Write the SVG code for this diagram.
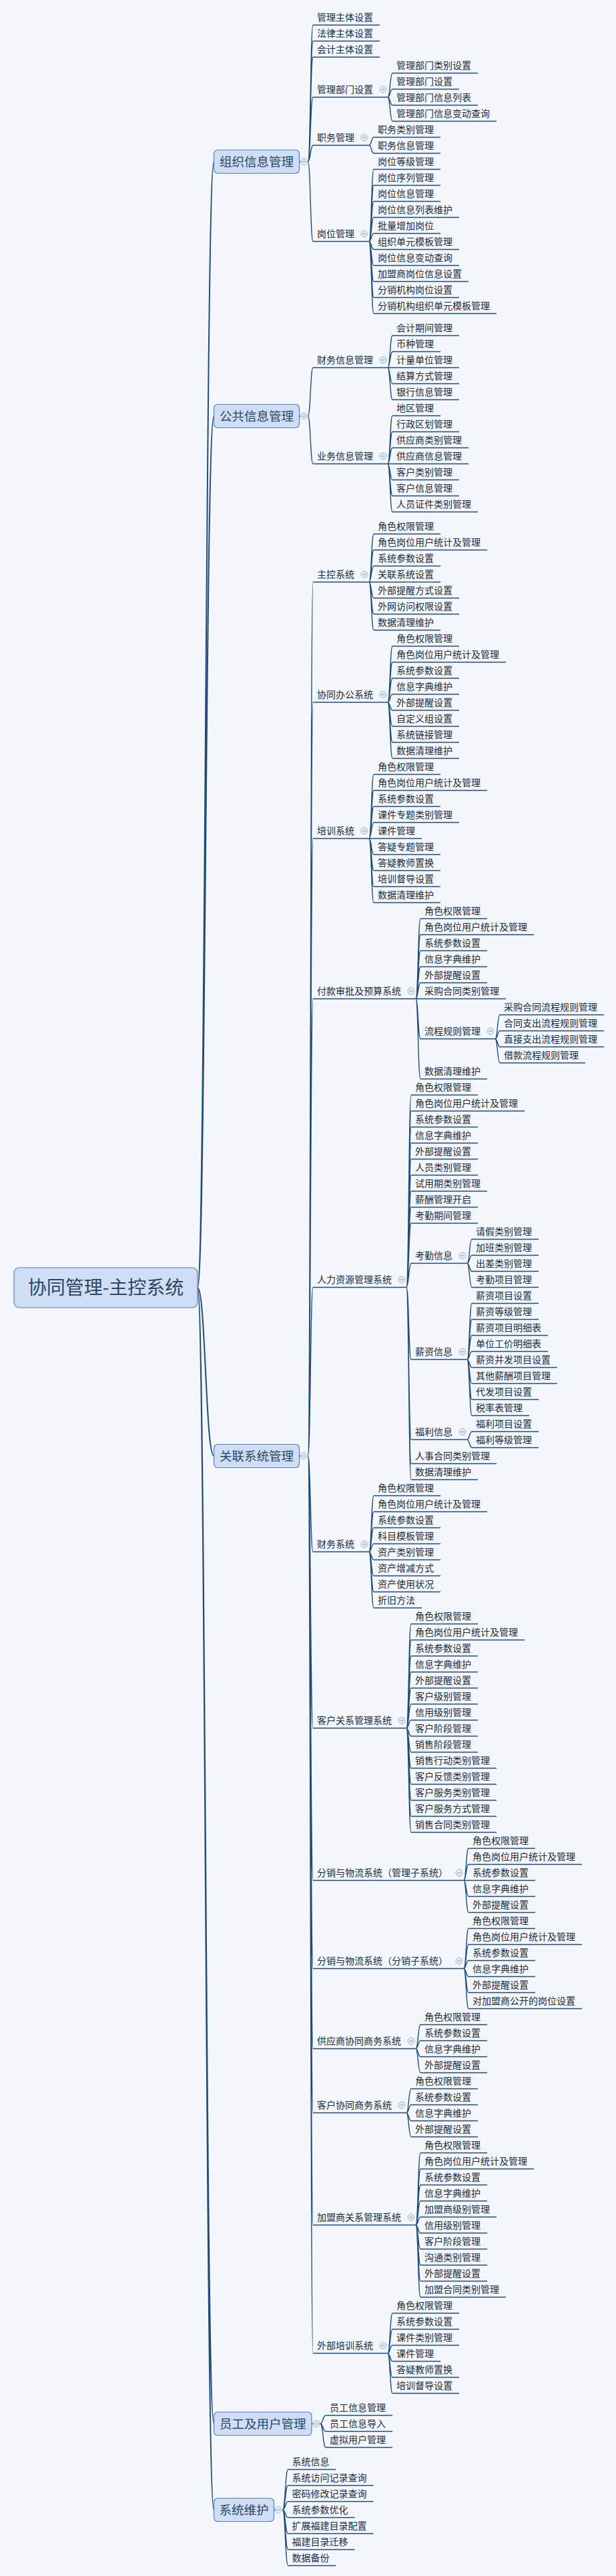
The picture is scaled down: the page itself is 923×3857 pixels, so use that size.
<svg xmlns="http://www.w3.org/2000/svg" width="923" height="3857" viewBox="0 0 923 3857">
<style>
text{font-family:"Noto Sans CJK SC","Noto Sans CJK JP",sans-serif;font-size:14px;fill:#1a2b42}
.u{stroke:#234b74;stroke-width:1.3;fill:none}
#connectors path{stroke:#234b74;stroke-width:1.4;fill:none}
#connectors path.r{stroke-width:2}
.box{fill:#cfdef4;stroke:#5b80b4;stroke-width:1.2}
.bt{font-size:18.5px;fill:#2b4566;text-anchor:middle}
.rt{font-size:28px;fill:#2b4566;text-anchor:middle}
.k circle{fill:#e2e9f2;stroke:#a5b8cf;stroke-width:1}
.k path{stroke:#8299b6;stroke-width:1;fill:none}
</style>
<rect x="0" y="0" width="923" height="3857" fill="#f3f6fa"/>

<g id="connectors">
<path class="r" d="M296 1928C308 1928 308 242 320.5 242M296 1928C308 1928 308 623 320.5 623M296 1928C308 1928 308 2180 320.5 2180M296 1928C308 1928 308 3629 320.5 3629M296 1928C308 1928 308 3758 320.5 3758"/>
<path d="M448.5 242H461.5M448.5 623H461.5M448.5 2180H461.5M467 3629H480M410.5 3758H423.5"/>
<path d="M461.5 242C465.2 242 465.2 37.5 469 37.5M461.5 242C465.2 242 465.2 61.5 469 61.5M461.5 242C465.2 242 465.2 85.5 469 85.5M461.5 242C465.2 242 465.2 145.5 469 145.5M461.5 242C465.2 242 465.2 217.5 469 217.5M461.5 242C465.2 242 465.2 361.5 469 361.5"/>
<path d="M581 145.5C584.5 145.5 584.5 109.5 588 109.5M581 145.5C584.5 145.5 584.5 133.5 588 133.5M581 145.5C584.5 145.5 584.5 157.5 588 157.5M581 145.5C584.5 145.5 584.5 181.5 588 181.5"/>
<path d="M553 217.5C556.5 217.5 556.5 205.5 560 205.5M553 217.5C556.5 217.5 556.5 229.5 560 229.5"/>
<path d="M553 361.5C556.5 361.5 556.5 253.5 560 253.5M553 361.5C556.5 361.5 556.5 277.5 560 277.5M553 361.5C556.5 361.5 556.5 301.5 560 301.5M553 361.5C556.5 361.5 556.5 325.5 560 325.5M553 361.5C556.5 361.5 556.5 349.5 560 349.5M553 361.5C556.5 361.5 556.5 373.5 560 373.5M553 361.5C556.5 361.5 556.5 397.5 560 397.5M553 361.5C556.5 361.5 556.5 421.5 560 421.5M553 361.5C556.5 361.5 556.5 445.5 560 445.5M553 361.5C556.5 361.5 556.5 469.5 560 469.5"/>
<path d="M461.5 623C465.2 623 465.2 550.5 469 550.5M461.5 623C465.2 623 465.2 694.5 469 694.5"/>
<path d="M581 550.5C584.5 550.5 584.5 502.5 588 502.5M581 550.5C584.5 550.5 584.5 526.5 588 526.5M581 550.5C584.5 550.5 584.5 550.5 588 550.5M581 550.5C584.5 550.5 584.5 574.5 588 574.5M581 550.5C584.5 550.5 584.5 598.5 588 598.5"/>
<path d="M581 694.5C584.5 694.5 584.5 622.5 588 622.5M581 694.5C584.5 694.5 584.5 646.5 588 646.5M581 694.5C584.5 694.5 584.5 670.5 588 670.5M581 694.5C584.5 694.5 584.5 694.5 588 694.5M581 694.5C584.5 694.5 584.5 718.5 588 718.5M581 694.5C584.5 694.5 584.5 742.5 588 742.5M581 694.5C584.5 694.5 584.5 766.5 588 766.5"/>
<path d="M461.5 2180C465.2 2180 465.2 871.5 469 871.5M461.5 2180C465.2 2180 465.2 1051.5 469 1051.5M461.5 2180C465.2 2180 465.2 1255.5 469 1255.5M461.5 2180C465.2 2180 465.2 1495.5 469 1495.5M461.5 2180C465.2 2180 465.2 1927.5 469 1927.5M461.5 2180C465.2 2180 465.2 2323.5 469 2323.5M461.5 2180C465.2 2180 465.2 2587.5 469 2587.5M461.5 2180C465.2 2180 465.2 2815.5 469 2815.5M461.5 2180C465.2 2180 465.2 2947.5 469 2947.5M461.5 2180C465.2 2180 465.2 3067.5 469 3067.5M461.5 2180C465.2 2180 465.2 3163.5 469 3163.5M461.5 2180C465.2 2180 465.2 3331.5 469 3331.5M461.5 2180C465.2 2180 465.2 3523.5 469 3523.5"/>
<path d="M553 871.5C556.5 871.5 556.5 799.5 560 799.5M553 871.5C556.5 871.5 556.5 823.5 560 823.5M553 871.5C556.5 871.5 556.5 847.5 560 847.5M553 871.5C556.5 871.5 556.5 871.5 560 871.5M553 871.5C556.5 871.5 556.5 895.5 560 895.5M553 871.5C556.5 871.5 556.5 919.5 560 919.5M553 871.5C556.5 871.5 556.5 943.5 560 943.5"/>
<path d="M581 1051.5C584.5 1051.5 584.5 967.5 588 967.5M581 1051.5C584.5 1051.5 584.5 991.5 588 991.5M581 1051.5C584.5 1051.5 584.5 1015.5 588 1015.5M581 1051.5C584.5 1051.5 584.5 1039.5 588 1039.5M581 1051.5C584.5 1051.5 584.5 1063.5 588 1063.5M581 1051.5C584.5 1051.5 584.5 1087.5 588 1087.5M581 1051.5C584.5 1051.5 584.5 1111.5 588 1111.5M581 1051.5C584.5 1051.5 584.5 1135.5 588 1135.5"/>
<path d="M553 1255.5C556.5 1255.5 556.5 1159.5 560 1159.5M553 1255.5C556.5 1255.5 556.5 1183.5 560 1183.5M553 1255.5C556.5 1255.5 556.5 1207.5 560 1207.5M553 1255.5C556.5 1255.5 556.5 1231.5 560 1231.5M553 1255.5C556.5 1255.5 556.5 1255.5 560 1255.5M553 1255.5C556.5 1255.5 556.5 1279.5 560 1279.5M553 1255.5C556.5 1255.5 556.5 1303.5 560 1303.5M553 1255.5C556.5 1255.5 556.5 1327.5 560 1327.5M553 1255.5C556.5 1255.5 556.5 1351.5 560 1351.5"/>
<path d="M623 1495.5C626.5 1495.5 626.5 1375.5 630 1375.5M623 1495.5C626.5 1495.5 626.5 1399.5 630 1399.5M623 1495.5C626.5 1495.5 626.5 1423.5 630 1423.5M623 1495.5C626.5 1495.5 626.5 1447.5 630 1447.5M623 1495.5C626.5 1495.5 626.5 1471.5 630 1471.5M623 1495.5C626.5 1495.5 626.5 1495.5 630 1495.5M623 1495.5C626.5 1495.5 626.5 1555.5 630 1555.5M623 1495.5C626.5 1495.5 626.5 1615.5 630 1615.5"/>
<path d="M742 1555.5C745.5 1555.5 745.5 1519.5 749 1519.5M742 1555.5C745.5 1555.5 745.5 1543.5 749 1543.5M742 1555.5C745.5 1555.5 745.5 1567.5 749 1567.5M742 1555.5C745.5 1555.5 745.5 1591.5 749 1591.5"/>
<path d="M609 1927.5C612.5 1927.5 612.5 1639.5 616 1639.5M609 1927.5C612.5 1927.5 612.5 1663.5 616 1663.5M609 1927.5C612.5 1927.5 612.5 1687.5 616 1687.5M609 1927.5C612.5 1927.5 612.5 1711.5 616 1711.5M609 1927.5C612.5 1927.5 612.5 1735.5 616 1735.5M609 1927.5C612.5 1927.5 612.5 1759.5 616 1759.5M609 1927.5C612.5 1927.5 612.5 1783.5 616 1783.5M609 1927.5C612.5 1927.5 612.5 1807.5 616 1807.5M609 1927.5C612.5 1927.5 612.5 1831.5 616 1831.5M609 1927.5C612.5 1927.5 612.5 1891.5 616 1891.5M609 1927.5C612.5 1927.5 612.5 2035.5 616 2035.5M609 1927.5C612.5 1927.5 612.5 2155.5 616 2155.5M609 1927.5C612.5 1927.5 612.5 2191.5 616 2191.5M609 1927.5C612.5 1927.5 612.5 2215.5 616 2215.5"/>
<path d="M700 1891.5C703.5 1891.5 703.5 1855.5 707 1855.5M700 1891.5C703.5 1891.5 703.5 1879.5 707 1879.5M700 1891.5C703.5 1891.5 703.5 1903.5 707 1903.5M700 1891.5C703.5 1891.5 703.5 1927.5 707 1927.5"/>
<path d="M700 2035.5C703.5 2035.5 703.5 1951.5 707 1951.5M700 2035.5C703.5 2035.5 703.5 1975.5 707 1975.5M700 2035.5C703.5 2035.5 703.5 1999.5 707 1999.5M700 2035.5C703.5 2035.5 703.5 2023.5 707 2023.5M700 2035.5C703.5 2035.5 703.5 2047.5 707 2047.5M700 2035.5C703.5 2035.5 703.5 2071.5 707 2071.5M700 2035.5C703.5 2035.5 703.5 2095.5 707 2095.5M700 2035.5C703.5 2035.5 703.5 2119.5 707 2119.5"/>
<path d="M700 2155.5C703.5 2155.5 703.5 2143.5 707 2143.5M700 2155.5C703.5 2155.5 703.5 2167.5 707 2167.5"/>
<path d="M553 2323.5C556.5 2323.5 556.5 2239.5 560 2239.5M553 2323.5C556.5 2323.5 556.5 2263.5 560 2263.5M553 2323.5C556.5 2323.5 556.5 2287.5 560 2287.5M553 2323.5C556.5 2323.5 556.5 2311.5 560 2311.5M553 2323.5C556.5 2323.5 556.5 2335.5 560 2335.5M553 2323.5C556.5 2323.5 556.5 2359.5 560 2359.5M553 2323.5C556.5 2323.5 556.5 2383.5 560 2383.5M553 2323.5C556.5 2323.5 556.5 2407.5 560 2407.5"/>
<path d="M609 2587.5C612.5 2587.5 612.5 2431.5 616 2431.5M609 2587.5C612.5 2587.5 612.5 2455.5 616 2455.5M609 2587.5C612.5 2587.5 612.5 2479.5 616 2479.5M609 2587.5C612.5 2587.5 612.5 2503.5 616 2503.5M609 2587.5C612.5 2587.5 612.5 2527.5 616 2527.5M609 2587.5C612.5 2587.5 612.5 2551.5 616 2551.5M609 2587.5C612.5 2587.5 612.5 2575.5 616 2575.5M609 2587.5C612.5 2587.5 612.5 2599.5 616 2599.5M609 2587.5C612.5 2587.5 612.5 2623.5 616 2623.5M609 2587.5C612.5 2587.5 612.5 2647.5 616 2647.5M609 2587.5C612.5 2587.5 612.5 2671.5 616 2671.5M609 2587.5C612.5 2587.5 612.5 2695.5 616 2695.5M609 2587.5C612.5 2587.5 612.5 2719.5 616 2719.5M609 2587.5C612.5 2587.5 612.5 2743.5 616 2743.5"/>
<path d="M695 2815.5C698.5 2815.5 698.5 2767.5 702 2767.5M695 2815.5C698.5 2815.5 698.5 2791.5 702 2791.5M695 2815.5C698.5 2815.5 698.5 2815.5 702 2815.5M695 2815.5C698.5 2815.5 698.5 2839.5 702 2839.5M695 2815.5C698.5 2815.5 698.5 2863.5 702 2863.5"/>
<path d="M695 2947.5C698.5 2947.5 698.5 2887.5 702 2887.5M695 2947.5C698.5 2947.5 698.5 2911.5 702 2911.5M695 2947.5C698.5 2947.5 698.5 2935.5 702 2935.5M695 2947.5C698.5 2947.5 698.5 2959.5 702 2959.5M695 2947.5C698.5 2947.5 698.5 2983.5 702 2983.5M695 2947.5C698.5 2947.5 698.5 3007.5 702 3007.5"/>
<path d="M623 3067.5C626.5 3067.5 626.5 3031.5 630 3031.5M623 3067.5C626.5 3067.5 626.5 3055.5 630 3055.5M623 3067.5C626.5 3067.5 626.5 3079.5 630 3079.5M623 3067.5C626.5 3067.5 626.5 3103.5 630 3103.5"/>
<path d="M609 3163.5C612.5 3163.5 612.5 3127.5 616 3127.5M609 3163.5C612.5 3163.5 612.5 3151.5 616 3151.5M609 3163.5C612.5 3163.5 612.5 3175.5 616 3175.5M609 3163.5C612.5 3163.5 612.5 3199.5 616 3199.5"/>
<path d="M623 3331.5C626.5 3331.5 626.5 3223.5 630 3223.5M623 3331.5C626.5 3331.5 626.5 3247.5 630 3247.5M623 3331.5C626.5 3331.5 626.5 3271.5 630 3271.5M623 3331.5C626.5 3331.5 626.5 3295.5 630 3295.5M623 3331.5C626.5 3331.5 626.5 3319.5 630 3319.5M623 3331.5C626.5 3331.5 626.5 3343.5 630 3343.5M623 3331.5C626.5 3331.5 626.5 3367.5 630 3367.5M623 3331.5C626.5 3331.5 626.5 3391.5 630 3391.5M623 3331.5C626.5 3331.5 626.5 3415.5 630 3415.5M623 3331.5C626.5 3331.5 626.5 3439.5 630 3439.5"/>
<path d="M581 3523.5C584.5 3523.5 584.5 3463.5 588 3463.5M581 3523.5C584.5 3523.5 584.5 3487.5 588 3487.5M581 3523.5C584.5 3523.5 584.5 3511.5 588 3511.5M581 3523.5C584.5 3523.5 584.5 3535.5 588 3535.5M581 3523.5C584.5 3523.5 584.5 3559.5 588 3559.5M581 3523.5C584.5 3523.5 584.5 3583.5 588 3583.5"/>
<path d="M480 3629C484 3629 484 3616.5 488 3616.5M480 3629C484 3629 484 3640.5 488 3640.5M480 3629C484 3629 484 3664.5 488 3664.5"/>
<path d="M423.5 3758C427.5 3758 427.5 3697.5 431.5 3697.5M423.5 3758C427.5 3758 427.5 3721.5 431.5 3721.5M423.5 3758C427.5 3758 427.5 3745.5 431.5 3745.5M423.5 3758C427.5 3758 427.5 3769.5 431.5 3769.5M423.5 3758C427.5 3758 427.5 3793.5 431.5 3793.5M423.5 3758C427.5 3758 427.5 3817.5 431.5 3817.5M423.5 3758C427.5 3758 427.5 3841.5 431.5 3841.5"/>
</g>

<g id="root"><rect class="box" x="21" y="1898" width="275" height="60" rx="8"/><text class="rt" x="158.5" y="1938">协同管理-主控系统</text></g>

<g id="b-org"><rect class="box" x="320.5" y="224.5" width="128" height="35" rx="6"/><text class="bt" x="384.5" y="248.5">组织信息管理</text><g class="k"><circle cx="455.5" cy="242" r="5"/><path d="M453 242H458"/></g></g>
<g id="b-pub"><rect class="box" x="320.5" y="605.5" width="128" height="35" rx="6"/><text class="bt" x="384.5" y="629.5">公共信息管理</text><g class="k"><circle cx="455.5" cy="623" r="5"/><path d="M453 623H458"/></g></g>
<g id="b-rel"><rect class="box" x="320.5" y="2162.5" width="128" height="35" rx="6"/><text class="bt" x="384.5" y="2186.5">关联系统管理</text><g class="k"><circle cx="455.5" cy="2180" r="5"/><path d="M453 2180H458"/></g></g>
<g id="b-emp"><rect class="box" x="320.5" y="3611.5" width="146.5" height="35" rx="6"/><text class="bt" x="393.75" y="3635.5">员工及用户管理</text><g class="k"><circle cx="474" cy="3629" r="5"/><path d="M471.5 3629H476.5"/></g></g>
<g id="b-sys"><rect class="box" x="320.5" y="3740.5" width="90" height="35" rx="6"/><text class="bt" x="365.5" y="3764.5">系统维护</text><g class="k"><circle cx="417.5" cy="3758" r="5"/><path d="M415 3758H420"/></g></g>

<g id="org-nodes">
<g id="o1"><text x="475" y="31">管理主体设置</text><path class="u" d="M469 37.5H569"/></g>
<g id="o2"><text x="475" y="55">法律主体设置</text><path class="u" d="M469 61.5H569"/></g>
<g id="o3"><text x="475" y="79">会计主体设置</text><path class="u" d="M469 85.5H569"/></g>
<g id="o4"><text x="475" y="139">管理部门设置</text><path class="u" d="M469 145.5H581"/><g class="k"><circle cx="574" cy="134" r="5"/><path d="M571.5 134H576.5"/></g></g>
<g id="o4a"><text x="594" y="103">管理部门类别设置</text><path class="u" d="M588 109.5H716"/></g>
<g id="o4b"><text x="594" y="127">管理部门设置</text><path class="u" d="M588 133.5H688"/></g>
<g id="o4c"><text x="594" y="151">管理部门信息列表</text><path class="u" d="M588 157.5H716"/></g>
<g id="o4d"><text x="594" y="175">管理部门信息变动查询</text><path class="u" d="M588 181.5H744"/></g>
<g id="o5"><text x="475" y="211">职务管理</text><path class="u" d="M469 217.5H553"/><g class="k"><circle cx="546" cy="206" r="5"/><path d="M543.5 206H548.5"/></g></g>
<g id="o5a"><text x="566" y="199">职务类别管理</text><path class="u" d="M560 205.5H660"/></g>
<g id="o5b"><text x="566" y="223">职务信息管理</text><path class="u" d="M560 229.5H660"/></g>
<g id="o6"><text x="475" y="355">岗位管理</text><path class="u" d="M469 361.5H553"/><g class="k"><circle cx="546" cy="350" r="5"/><path d="M543.5 350H548.5"/></g></g>
<g id="o6a"><text x="566" y="247">岗位等级管理</text><path class="u" d="M560 253.5H660"/></g>
<g id="o6b"><text x="566" y="271">岗位序列管理</text><path class="u" d="M560 277.5H660"/></g>
<g id="o6c"><text x="566" y="295">岗位信息管理</text><path class="u" d="M560 301.5H660"/></g>
<g id="o6d"><text x="566" y="319">岗位信息列表维护</text><path class="u" d="M560 325.5H688"/></g>
<g id="o6e"><text x="566" y="343">批量增加岗位</text><path class="u" d="M560 349.5H660"/></g>
<g id="o6f"><text x="566" y="367">组织单元模板管理</text><path class="u" d="M560 373.5H688"/></g>
<g id="o6g"><text x="566" y="391">岗位信息变动查询</text><path class="u" d="M560 397.5H688"/></g>
<g id="o6h"><text x="566" y="415">加盟商岗位信息设置</text><path class="u" d="M560 421.5H702"/></g>
<g id="o6i"><text x="566" y="439">分销机构岗位设置</text><path class="u" d="M560 445.5H688"/></g>
<g id="o6j"><text x="566" y="463">分销机构组织单元模板管理</text><path class="u" d="M560 469.5H744"/></g>
</g>

<g id="pub-nodes">
<g id="p1"><text x="475" y="544">财务信息管理</text><path class="u" d="M469 550.5H581"/><g class="k"><circle cx="574" cy="539" r="5"/><path d="M571.5 539H576.5"/></g></g>
<g id="p1a"><text x="594" y="496">会计期间管理</text><path class="u" d="M588 502.5H688"/></g>
<g id="p1b"><text x="594" y="520">币种管理</text><path class="u" d="M588 526.5H660"/></g>
<g id="p1c"><text x="594" y="544">计量单位管理</text><path class="u" d="M588 550.5H688"/></g>
<g id="p1d"><text x="594" y="568">结算方式管理</text><path class="u" d="M588 574.5H688"/></g>
<g id="p1e"><text x="594" y="592">银行信息管理</text><path class="u" d="M588 598.5H688"/></g>
<g id="p2"><text x="475" y="688">业务信息管理</text><path class="u" d="M469 694.5H581"/><g class="k"><circle cx="574" cy="683" r="5"/><path d="M571.5 683H576.5"/></g></g>
<g id="p2a"><text x="594" y="616">地区管理</text><path class="u" d="M588 622.5H660"/></g>
<g id="p2b"><text x="594" y="640">行政区划管理</text><path class="u" d="M588 646.5H688"/></g>
<g id="p2c"><text x="594" y="664">供应商类别管理</text><path class="u" d="M588 670.5H702"/></g>
<g id="p2d"><text x="594" y="688">供应商信息管理</text><path class="u" d="M588 694.5H702"/></g>
<g id="p2e"><text x="594" y="712">客户类别管理</text><path class="u" d="M588 718.5H688"/></g>
<g id="p2f"><text x="594" y="736">客户信息管理</text><path class="u" d="M588 742.5H688"/></g>
<g id="p2g"><text x="594" y="760">人员证件类别管理</text><path class="u" d="M588 766.5H716"/></g>
</g>

<g id="rel-nodes">
<g id="r1"><text x="475" y="865">主控系统</text><path class="u" d="M469 871.5H553"/><g class="k"><circle cx="546" cy="860" r="5"/><path d="M543.5 860H548.5"/></g></g>
<g id="r1a"><text x="566" y="793">角色权限管理</text><path class="u" d="M560 799.5H660"/></g>
<g id="r1b"><text x="566" y="817">角色岗位用户统计及管理</text><path class="u" d="M560 823.5H730"/></g>
<g id="r1c"><text x="566" y="841">系统参数设置</text><path class="u" d="M560 847.5H660"/></g>
<g id="r1d"><text x="566" y="865">关联系统设置</text><path class="u" d="M560 871.5H660"/></g>
<g id="r1e"><text x="566" y="889">外部提醒方式设置</text><path class="u" d="M560 895.5H688"/></g>
<g id="r1f"><text x="566" y="913">外网访问权限设置</text><path class="u" d="M560 919.5H688"/></g>
<g id="r1g"><text x="566" y="937">数据清理维护</text><path class="u" d="M560 943.5H660"/></g>

<g id="r2"><text x="475" y="1045">协同办公系统</text><path class="u" d="M469 1051.5H581"/><g class="k"><circle cx="574" cy="1040" r="5"/><path d="M571.5 1040H576.5"/></g></g>
<g id="r2a"><text x="594" y="961">角色权限管理</text><path class="u" d="M588 967.5H688"/></g>
<g id="r2b"><text x="594" y="985">角色岗位用户统计及管理</text><path class="u" d="M588 991.5H758"/></g>
<g id="r2c"><text x="594" y="1009">系统参数设置</text><path class="u" d="M588 1015.5H688"/></g>
<g id="r2d"><text x="594" y="1033">信息字典维护</text><path class="u" d="M588 1039.5H688"/></g>
<g id="r2e"><text x="594" y="1057">外部提醒设置</text><path class="u" d="M588 1063.5H688"/></g>
<g id="r2f"><text x="594" y="1081">自定义组设置</text><path class="u" d="M588 1087.5H688"/></g>
<g id="r2g"><text x="594" y="1105">系统链接管理</text><path class="u" d="M588 1111.5H688"/></g>
<g id="r2h"><text x="594" y="1129">数据清理维护</text><path class="u" d="M588 1135.5H688"/></g>

<g id="r3"><text x="475" y="1249">培训系统</text><path class="u" d="M469 1255.5H553"/><g class="k"><circle cx="546" cy="1244" r="5"/><path d="M543.5 1244H548.5"/></g></g>
<g id="r3a"><text x="566" y="1153">角色权限管理</text><path class="u" d="M560 1159.5H660"/></g>
<g id="r3b"><text x="566" y="1177">角色岗位用户统计及管理</text><path class="u" d="M560 1183.5H730"/></g>
<g id="r3c"><text x="566" y="1201">系统参数设置</text><path class="u" d="M560 1207.5H660"/></g>
<g id="r3d"><text x="566" y="1225">课件专题类别管理</text><path class="u" d="M560 1231.5H688"/></g>
<g id="r3e"><text x="566" y="1249">课件管理</text><path class="u" d="M560 1255.5H632"/></g>
<g id="r3f"><text x="566" y="1273">答疑专题管理</text><path class="u" d="M560 1279.5H660"/></g>
<g id="r3g"><text x="566" y="1297">答疑教师置换</text><path class="u" d="M560 1303.5H660"/></g>
<g id="r3h"><text x="566" y="1321">培训督导设置</text><path class="u" d="M560 1327.5H660"/></g>
<g id="r3i"><text x="566" y="1345">数据清理维护</text><path class="u" d="M560 1351.5H660"/></g>

<g id="r4"><text x="475" y="1489">付款审批及预算系统</text><path class="u" d="M469 1495.5H623"/><g class="k"><circle cx="616" cy="1484" r="5"/><path d="M613.5 1484H618.5"/></g></g>
<g id="r4a"><text x="636" y="1369">角色权限管理</text><path class="u" d="M630 1375.5H730"/></g>
<g id="r4b"><text x="636" y="1393">角色岗位用户统计及管理</text><path class="u" d="M630 1399.5H800"/></g>
<g id="r4c"><text x="636" y="1417">系统参数设置</text><path class="u" d="M630 1423.5H730"/></g>
<g id="r4d"><text x="636" y="1441">信息字典维护</text><path class="u" d="M630 1447.5H730"/></g>
<g id="r4e"><text x="636" y="1465">外部提醒设置</text><path class="u" d="M630 1471.5H730"/></g>
<g id="r4f"><text x="636" y="1489">采购合同类别管理</text><path class="u" d="M630 1495.5H758"/></g>
<g id="r4g"><text x="636" y="1549">流程规则管理</text><path class="u" d="M630 1555.5H742"/><g class="k"><circle cx="735" cy="1544" r="5"/><path d="M732.5 1544H737.5"/></g></g>
<g id="r4g1"><text x="755" y="1513">采购合同流程规则管理</text><path class="u" d="M749 1519.5H905"/></g>
<g id="r4g2"><text x="755" y="1537">合同支出流程规则管理</text><path class="u" d="M749 1543.5H905"/></g>
<g id="r4g3"><text x="755" y="1561">直接支出流程规则管理</text><path class="u" d="M749 1567.5H905"/></g>
<g id="r4g4"><text x="755" y="1585">借款流程规则管理</text><path class="u" d="M749 1591.5H877"/></g>
<g id="r4h"><text x="636" y="1609">数据清理维护</text><path class="u" d="M630 1615.5H730"/></g>

<g id="r5"><text x="475" y="1921">人力资源管理系统</text><path class="u" d="M469 1927.5H609"/><g class="k"><circle cx="602" cy="1916" r="5"/><path d="M599.5 1916H604.5"/></g></g>
<g id="r5a"><text x="622" y="1633">角色权限管理</text><path class="u" d="M616 1639.5H716"/></g>
<g id="r5b"><text x="622" y="1657">角色岗位用户统计及管理</text><path class="u" d="M616 1663.5H786"/></g>
<g id="r5c"><text x="622" y="1681">系统参数设置</text><path class="u" d="M616 1687.5H716"/></g>
<g id="r5d"><text x="622" y="1705">信息字典维护</text><path class="u" d="M616 1711.5H716"/></g>
<g id="r5e"><text x="622" y="1729">外部提醒设置</text><path class="u" d="M616 1735.5H716"/></g>
<g id="r5f"><text x="622" y="1753">人员类别管理</text><path class="u" d="M616 1759.5H716"/></g>
<g id="r5g"><text x="622" y="1777">试用期类别管理</text><path class="u" d="M616 1783.5H730"/></g>
<g id="r5h"><text x="622" y="1801">薪酬管理开启</text><path class="u" d="M616 1807.5H716"/></g>
<g id="r5i"><text x="622" y="1825">考勤期间管理</text><path class="u" d="M616 1831.5H716"/></g>
<g id="r5j"><text x="622" y="1885">考勤信息</text><path class="u" d="M616 1891.5H700"/><g class="k"><circle cx="693" cy="1880" r="5"/><path d="M690.5 1880H695.5"/></g></g>
<g id="r5j1"><text x="713" y="1849">请假类别管理</text><path class="u" d="M707 1855.5H807"/></g>
<g id="r5j2"><text x="713" y="1873">加班类别管理</text><path class="u" d="M707 1879.5H807"/></g>
<g id="r5j3"><text x="713" y="1897">出差类别管理</text><path class="u" d="M707 1903.5H807"/></g>
<g id="r5j4"><text x="713" y="1921">考勤项目管理</text><path class="u" d="M707 1927.5H807"/></g>
<g id="r5k"><text x="622" y="2029">薪资信息</text><path class="u" d="M616 2035.5H700"/><g class="k"><circle cx="693" cy="2024" r="5"/><path d="M690.5 2024H695.5"/></g></g>
<g id="r5k1"><text x="713" y="1945">薪资项目设置</text><path class="u" d="M707 1951.5H807"/></g>
<g id="r5k2"><text x="713" y="1969">薪资等级管理</text><path class="u" d="M707 1975.5H807"/></g>
<g id="r5k3"><text x="713" y="1993">薪资项目明细表</text><path class="u" d="M707 1999.5H821"/></g>
<g id="r5k4"><text x="713" y="2017">单位工价明细表</text><path class="u" d="M707 2023.5H821"/></g>
<g id="r5k5"><text x="713" y="2041">薪资并发项目设置</text><path class="u" d="M707 2047.5H835"/></g>
<g id="r5k6"><text x="713" y="2065">其他薪酬项目管理</text><path class="u" d="M707 2071.5H835"/></g>
<g id="r5k7"><text x="713" y="2089">代发项目设置</text><path class="u" d="M707 2095.5H807"/></g>
<g id="r5k8"><text x="713" y="2113">税率表管理</text><path class="u" d="M707 2119.5H793"/></g>
<g id="r5l"><text x="622" y="2149">福利信息</text><path class="u" d="M616 2155.5H700"/><g class="k"><circle cx="693" cy="2144" r="5"/><path d="M690.5 2144H695.5"/></g></g>
<g id="r5l1"><text x="713" y="2137">福利项目设置</text><path class="u" d="M707 2143.5H807"/></g>
<g id="r5l2"><text x="713" y="2161">福利等级管理</text><path class="u" d="M707 2167.5H807"/></g>
<g id="r5m"><text x="622" y="2185">人事合同类别管理</text><path class="u" d="M616 2191.5H744"/></g>
<g id="r5n"><text x="622" y="2209">数据清理维护</text><path class="u" d="M616 2215.5H716"/></g>

<g id="r6"><text x="475" y="2317">财务系统</text><path class="u" d="M469 2323.5H553"/><g class="k"><circle cx="546" cy="2312" r="5"/><path d="M543.5 2312H548.5"/></g></g>
<g id="r6a"><text x="566" y="2233">角色权限管理</text><path class="u" d="M560 2239.5H660"/></g>
<g id="r6b"><text x="566" y="2257">角色岗位用户统计及管理</text><path class="u" d="M560 2263.5H730"/></g>
<g id="r6c"><text x="566" y="2281">系统参数设置</text><path class="u" d="M560 2287.5H660"/></g>
<g id="r6d"><text x="566" y="2305">科目模板管理</text><path class="u" d="M560 2311.5H660"/></g>
<g id="r6e"><text x="566" y="2329">资产类别管理</text><path class="u" d="M560 2335.5H660"/></g>
<g id="r6f"><text x="566" y="2353">资产增减方式</text><path class="u" d="M560 2359.5H660"/></g>
<g id="r6g"><text x="566" y="2377">资产使用状况</text><path class="u" d="M560 2383.5H660"/></g>
<g id="r6h"><text x="566" y="2401">折旧方法</text><path class="u" d="M560 2407.5H632"/></g>

<g id="r7"><text x="475" y="2581">客户关系管理系统</text><path class="u" d="M469 2587.5H609"/><g class="k"><circle cx="602" cy="2576" r="5"/><path d="M599.5 2576H604.5"/></g></g>
<g id="r7a"><text x="622" y="2425">角色权限管理</text><path class="u" d="M616 2431.5H716"/></g>
<g id="r7b"><text x="622" y="2449">角色岗位用户统计及管理</text><path class="u" d="M616 2455.5H786"/></g>
<g id="r7c"><text x="622" y="2473">系统参数设置</text><path class="u" d="M616 2479.5H716"/></g>
<g id="r7d"><text x="622" y="2497">信息字典维护</text><path class="u" d="M616 2503.5H716"/></g>
<g id="r7e"><text x="622" y="2521">外部提醒设置</text><path class="u" d="M616 2527.5H716"/></g>
<g id="r7f"><text x="622" y="2545">客户级别管理</text><path class="u" d="M616 2551.5H716"/></g>
<g id="r7g"><text x="622" y="2569">信用级别管理</text><path class="u" d="M616 2575.5H716"/></g>
<g id="r7h"><text x="622" y="2593">客户阶段管理</text><path class="u" d="M616 2599.5H716"/></g>
<g id="r7i"><text x="622" y="2617">销售阶段管理</text><path class="u" d="M616 2623.5H716"/></g>
<g id="r7j"><text x="622" y="2641">销售行动类别管理</text><path class="u" d="M616 2647.5H744"/></g>
<g id="r7k"><text x="622" y="2665">客户反馈类别管理</text><path class="u" d="M616 2671.5H744"/></g>
<g id="r7l"><text x="622" y="2689">客户服务类别管理</text><path class="u" d="M616 2695.5H744"/></g>
<g id="r7m"><text x="622" y="2713">客户服务方式管理</text><path class="u" d="M616 2719.5H744"/></g>
<g id="r7n"><text x="622" y="2737">销售合同类别管理</text><path class="u" d="M616 2743.5H744"/></g>

<g id="r8"><text x="475" y="2809">分销与物流系统（管理子系统）</text><path class="u" d="M469 2815.5H695"/><g class="k"><circle cx="688" cy="2804" r="5"/><path d="M685.5 2804H690.5"/></g></g>
<g id="r8a"><text x="708" y="2761">角色权限管理</text><path class="u" d="M702 2767.5H802"/></g>
<g id="r8b"><text x="708" y="2785">角色岗位用户统计及管理</text><path class="u" d="M702 2791.5H872"/></g>
<g id="r8c"><text x="708" y="2809">系统参数设置</text><path class="u" d="M702 2815.5H802"/></g>
<g id="r8d"><text x="708" y="2833">信息字典维护</text><path class="u" d="M702 2839.5H802"/></g>
<g id="r8e"><text x="708" y="2857">外部提醒设置</text><path class="u" d="M702 2863.5H802"/></g>

<g id="r9"><text x="475" y="2941">分销与物流系统（分销子系统）</text><path class="u" d="M469 2947.5H695"/><g class="k"><circle cx="688" cy="2936" r="5"/><path d="M685.5 2936H690.5"/></g></g>
<g id="r9a"><text x="708" y="2881">角色权限管理</text><path class="u" d="M702 2887.5H802"/></g>
<g id="r9b"><text x="708" y="2905">角色岗位用户统计及管理</text><path class="u" d="M702 2911.5H872"/></g>
<g id="r9c"><text x="708" y="2929">系统参数设置</text><path class="u" d="M702 2935.5H802"/></g>
<g id="r9d"><text x="708" y="2953">信息字典维护</text><path class="u" d="M702 2959.5H802"/></g>
<g id="r9e"><text x="708" y="2977">外部提醒设置</text><path class="u" d="M702 2983.5H802"/></g>
<g id="r9f"><text x="708" y="3001">对加盟商公开的岗位设置</text><path class="u" d="M702 3007.5H872"/></g>

<g id="r10"><text x="475" y="3061">供应商协同商务系统</text><path class="u" d="M469 3067.5H623"/><g class="k"><circle cx="616" cy="3056" r="5"/><path d="M613.5 3056H618.5"/></g></g>
<g id="r10a"><text x="636" y="3025">角色权限管理</text><path class="u" d="M630 3031.5H730"/></g>
<g id="r10b"><text x="636" y="3049">系统参数设置</text><path class="u" d="M630 3055.5H730"/></g>
<g id="r10c"><text x="636" y="3073">信息字典维护</text><path class="u" d="M630 3079.5H730"/></g>
<g id="r10d"><text x="636" y="3097">外部提醒设置</text><path class="u" d="M630 3103.5H730"/></g>

<g id="r11"><text x="475" y="3157">客户协同商务系统</text><path class="u" d="M469 3163.5H609"/><g class="k"><circle cx="602" cy="3152" r="5"/><path d="M599.5 3152H604.5"/></g></g>
<g id="r11a"><text x="622" y="3121">角色权限管理</text><path class="u" d="M616 3127.5H716"/></g>
<g id="r11b"><text x="622" y="3145">系统参数设置</text><path class="u" d="M616 3151.5H716"/></g>
<g id="r11c"><text x="622" y="3169">信息字典维护</text><path class="u" d="M616 3175.5H716"/></g>
<g id="r11d"><text x="622" y="3193">外部提醒设置</text><path class="u" d="M616 3199.5H716"/></g>

<g id="r12"><text x="475" y="3325">加盟商关系管理系统</text><path class="u" d="M469 3331.5H623"/><g class="k"><circle cx="616" cy="3320" r="5"/><path d="M613.5 3320H618.5"/></g></g>
<g id="r12a"><text x="636" y="3217">角色权限管理</text><path class="u" d="M630 3223.5H730"/></g>
<g id="r12b"><text x="636" y="3241">角色岗位用户统计及管理</text><path class="u" d="M630 3247.5H800"/></g>
<g id="r12c"><text x="636" y="3265">系统参数设置</text><path class="u" d="M630 3271.5H730"/></g>
<g id="r12d"><text x="636" y="3289">信息字典维护</text><path class="u" d="M630 3295.5H730"/></g>
<g id="r12e"><text x="636" y="3313">加盟商级别管理</text><path class="u" d="M630 3319.5H744"/></g>
<g id="r12f"><text x="636" y="3337">信用级别管理</text><path class="u" d="M630 3343.5H730"/></g>
<g id="r12g"><text x="636" y="3361">客户阶段管理</text><path class="u" d="M630 3367.5H730"/></g>
<g id="r12h"><text x="636" y="3385">沟通类别管理</text><path class="u" d="M630 3391.5H730"/></g>
<g id="r12i"><text x="636" y="3409">外部提醒设置</text><path class="u" d="M630 3415.5H730"/></g>
<g id="r12j"><text x="636" y="3433">加盟合同类别管理</text><path class="u" d="M630 3439.5H758"/></g>

<g id="r13"><text x="475" y="3517">外部培训系统</text><path class="u" d="M469 3523.5H581"/><g class="k"><circle cx="574" cy="3512" r="5"/><path d="M571.5 3512H576.5"/></g></g>
<g id="r13a"><text x="594" y="3457">角色权限管理</text><path class="u" d="M588 3463.5H688"/></g>
<g id="r13b"><text x="594" y="3481">系统参数设置</text><path class="u" d="M588 3487.5H688"/></g>
<g id="r13c"><text x="594" y="3505">课件类别管理</text><path class="u" d="M588 3511.5H688"/></g>
<g id="r13d"><text x="594" y="3529">课件管理</text><path class="u" d="M588 3535.5H660"/></g>
<g id="r13e"><text x="594" y="3553">答疑教师置换</text><path class="u" d="M588 3559.5H688"/></g>
<g id="r13f"><text x="594" y="3577">培训督导设置</text><path class="u" d="M588 3583.5H688"/></g>
</g>

<g id="emp-nodes">
<g id="e1"><text x="494" y="3610">员工信息管理</text><path class="u" d="M488 3616.5H588"/></g>
<g id="e2"><text x="494" y="3634">员工信息导入</text><path class="u" d="M488 3640.5H588"/></g>
<g id="e3"><text x="494" y="3658">虚拟用户管理</text><path class="u" d="M488 3664.5H588"/></g>
</g>

<g id="sys-nodes">
<g id="s1"><text x="437.5" y="3691">系统信息</text><path class="u" d="M431.5 3697.5H503.5"/></g>
<g id="s2"><text x="437.5" y="3715">系统访问记录查询</text><path class="u" d="M431.5 3721.5H559.5"/></g>
<g id="s3"><text x="437.5" y="3739">密码修改记录查询</text><path class="u" d="M431.5 3745.5H559.5"/></g>
<g id="s4"><text x="437.5" y="3763">系统参数优化</text><path class="u" d="M431.5 3769.5H531.5"/></g>
<g id="s5"><text x="437.5" y="3787">扩展福建目录配置</text><path class="u" d="M431.5 3793.5H559.5"/></g>
<g id="s6"><text x="437.5" y="3811">福建目录迁移</text><path class="u" d="M431.5 3817.5H531.5"/></g>
<g id="s7"><text x="437.5" y="3835">数据备份</text><path class="u" d="M431.5 3841.5H503.5"/></g>
</g>
</svg>
